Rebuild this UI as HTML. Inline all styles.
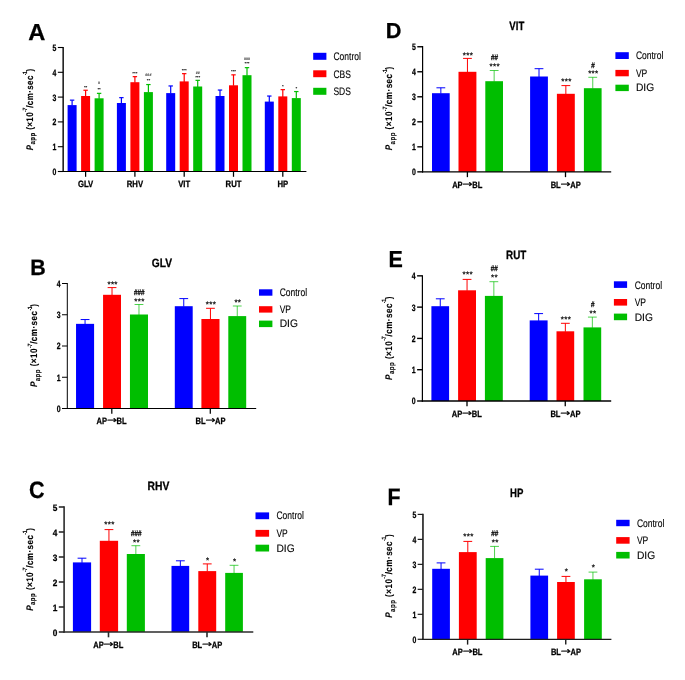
<!DOCTYPE html>
<html lang="en"><head><meta charset="utf-8"><title>Figure</title>
<style>html,body{margin:0;padding:0;background:#fff}body{width:685px;height:680px;overflow:hidden}svg{display:block;font-family:"Liberation Sans",Arial,sans-serif;font-weight:bold;fill:#000;text-rendering:geometricPrecision}.b{stroke:#000;stroke-width:.28px}</style></head>
<body>
<svg width="685" height="680" viewBox="0 0 685 680">
<g id="panelA">
<rect x="67.60" y="105.10" width="9.00" height="66.40" fill="#0000ff"/>
<line x1="72.10" y1="105.60" x2="72.10" y2="100.15" stroke="#0000ff" stroke-width="1.2"/>
<line x1="69.90" y1="100.15" x2="74.30" y2="100.15" stroke="#0000ff" stroke-width="1.2"/>
<rect x="81.10" y="96.00" width="9.00" height="75.50" fill="#ff0000"/>
<line x1="85.60" y1="96.50" x2="85.60" y2="90.25" stroke="#ff0000" stroke-width="1.2"/>
<line x1="83.40" y1="90.25" x2="87.80" y2="90.25" stroke="#ff0000" stroke-width="1.2"/>
<rect x="94.60" y="98.30" width="9.00" height="73.20" fill="#00be00"/>
<line x1="99.10" y1="98.80" x2="99.10" y2="93.35" stroke="#00be00" stroke-width="1.2"/>
<line x1="96.90" y1="93.35" x2="101.30" y2="93.35" stroke="#00be00" stroke-width="1.2"/>
<rect x="116.90" y="103.00" width="9.00" height="68.50" fill="#0000ff"/>
<line x1="121.40" y1="103.50" x2="121.40" y2="97.65" stroke="#0000ff" stroke-width="1.2"/>
<line x1="119.20" y1="97.65" x2="123.60" y2="97.65" stroke="#0000ff" stroke-width="1.2"/>
<rect x="130.40" y="82.20" width="9.00" height="89.30" fill="#ff0000"/>
<line x1="134.90" y1="82.70" x2="134.90" y2="76.65" stroke="#ff0000" stroke-width="1.2"/>
<line x1="132.70" y1="76.65" x2="137.10" y2="76.65" stroke="#ff0000" stroke-width="1.2"/>
<rect x="143.90" y="92.10" width="9.00" height="79.40" fill="#00be00"/>
<line x1="148.40" y1="92.60" x2="148.40" y2="84.55" stroke="#00be00" stroke-width="1.2"/>
<line x1="146.20" y1="84.55" x2="150.60" y2="84.55" stroke="#00be00" stroke-width="1.2"/>
<rect x="166.20" y="93.10" width="9.00" height="78.40" fill="#0000ff"/>
<line x1="170.70" y1="93.60" x2="170.70" y2="85.95" stroke="#0000ff" stroke-width="1.2"/>
<line x1="168.50" y1="85.95" x2="172.90" y2="85.95" stroke="#0000ff" stroke-width="1.2"/>
<rect x="179.70" y="81.40" width="9.00" height="90.10" fill="#ff0000"/>
<line x1="184.20" y1="81.90" x2="184.20" y2="73.65" stroke="#ff0000" stroke-width="1.2"/>
<line x1="182.00" y1="73.65" x2="186.40" y2="73.65" stroke="#ff0000" stroke-width="1.2"/>
<rect x="193.20" y="86.50" width="9.00" height="85.00" fill="#00be00"/>
<line x1="197.70" y1="87.00" x2="197.70" y2="80.35" stroke="#00be00" stroke-width="1.2"/>
<line x1="195.50" y1="80.35" x2="199.90" y2="80.35" stroke="#00be00" stroke-width="1.2"/>
<rect x="215.50" y="96.00" width="9.00" height="75.50" fill="#0000ff"/>
<line x1="220.00" y1="96.50" x2="220.00" y2="90.05" stroke="#0000ff" stroke-width="1.2"/>
<line x1="217.80" y1="90.05" x2="222.20" y2="90.05" stroke="#0000ff" stroke-width="1.2"/>
<rect x="229.00" y="85.30" width="9.00" height="86.20" fill="#ff0000"/>
<line x1="233.50" y1="85.80" x2="233.50" y2="74.85" stroke="#ff0000" stroke-width="1.2"/>
<line x1="231.30" y1="74.85" x2="235.70" y2="74.85" stroke="#ff0000" stroke-width="1.2"/>
<rect x="242.50" y="75.20" width="9.00" height="96.30" fill="#00be00"/>
<line x1="247.00" y1="75.70" x2="247.00" y2="67.65" stroke="#00be00" stroke-width="1.2"/>
<line x1="244.80" y1="67.65" x2="249.20" y2="67.65" stroke="#00be00" stroke-width="1.2"/>
<rect x="264.80" y="101.60" width="9.00" height="69.90" fill="#0000ff"/>
<line x1="269.30" y1="102.10" x2="269.30" y2="96.05" stroke="#0000ff" stroke-width="1.2"/>
<line x1="267.10" y1="96.05" x2="271.50" y2="96.05" stroke="#0000ff" stroke-width="1.2"/>
<rect x="278.30" y="96.40" width="9.00" height="75.10" fill="#ff0000"/>
<line x1="282.80" y1="96.90" x2="282.80" y2="89.65" stroke="#ff0000" stroke-width="1.2"/>
<line x1="280.60" y1="89.65" x2="285.00" y2="89.65" stroke="#ff0000" stroke-width="1.2"/>
<rect x="291.80" y="98.10" width="9.00" height="73.40" fill="#00be00"/>
<line x1="296.30" y1="98.60" x2="296.30" y2="91.55" stroke="#00be00" stroke-width="1.2"/>
<line x1="294.10" y1="91.55" x2="298.50" y2="91.55" stroke="#00be00" stroke-width="1.2"/>
<line x1="63.15" y1="46.95" x2="63.15" y2="172.05" stroke="#000" stroke-width="1.4"/>
<line x1="62.45" y1="171.50" x2="306.40" y2="171.50" stroke="#000" stroke-width="1.1"/>
<line x1="57.85" y1="171.50" x2="63.15" y2="171.50" stroke="#000" stroke-width="1.1"/>
<text transform="translate(56.45,174.95) scale(0.75,1)" font-size="9.2" class="b" text-anchor="end">0</text>
<line x1="57.85" y1="146.70" x2="63.15" y2="146.70" stroke="#000" stroke-width="1.1"/>
<text transform="translate(56.45,150.15) scale(0.75,1)" font-size="9.2" class="b" text-anchor="end">1</text>
<line x1="57.85" y1="121.90" x2="63.15" y2="121.90" stroke="#000" stroke-width="1.1"/>
<text transform="translate(56.45,125.35) scale(0.75,1)" font-size="9.2" class="b" text-anchor="end">2</text>
<line x1="57.85" y1="97.10" x2="63.15" y2="97.10" stroke="#000" stroke-width="1.1"/>
<text transform="translate(56.45,100.55) scale(0.75,1)" font-size="9.2" class="b" text-anchor="end">3</text>
<line x1="57.85" y1="72.30" x2="63.15" y2="72.30" stroke="#000" stroke-width="1.1"/>
<text transform="translate(56.45,75.75) scale(0.75,1)" font-size="9.2" class="b" text-anchor="end">4</text>
<line x1="57.85" y1="47.50" x2="63.15" y2="47.50" stroke="#000" stroke-width="1.1"/>
<text transform="translate(56.45,50.95) scale(0.75,1)" font-size="9.2" class="b" text-anchor="end">5</text>
<line x1="85.60" y1="171.50" x2="85.60" y2="176.80" stroke="#000" stroke-width="1.25"/>
<text transform="translate(85.60,187.00) scale(0.84,1)" font-size="9.2" class="b" text-anchor="middle">GLV</text>
<line x1="134.90" y1="171.50" x2="134.90" y2="176.80" stroke="#000" stroke-width="1.25"/>
<text transform="translate(134.90,187.00) scale(0.84,1)" font-size="9.2" class="b" text-anchor="middle">RHV</text>
<line x1="184.20" y1="171.50" x2="184.20" y2="176.80" stroke="#000" stroke-width="1.25"/>
<text transform="translate(184.20,187.00) scale(0.84,1)" font-size="9.2" class="b" text-anchor="middle">VIT</text>
<line x1="233.50" y1="171.50" x2="233.50" y2="176.80" stroke="#000" stroke-width="1.25"/>
<text transform="translate(233.50,187.00) scale(0.84,1)" font-size="9.2" class="b" text-anchor="middle">RUT</text>
<line x1="282.80" y1="171.50" x2="282.80" y2="176.80" stroke="#000" stroke-width="1.25"/>
<text transform="translate(282.80,187.00) scale(0.84,1)" font-size="9.2" class="b" text-anchor="middle">HP</text>
<text transform="translate(28.30,40.00) scale(1.02,1)" font-size="23.2" class="b">A</text>
<g transform="translate(32.90,150.20) rotate(-90) scale(0.83,1)"><text x="0" y="0" font-size="9.6" letter-spacing="0.5" stroke="#000" stroke-width="0.12"><tspan font-style="italic">P</tspan><tspan font-size="7.30" dy="2.3">app</tspan><tspan dy="-2.3"> (×10</tspan><tspan font-size="6.14" dy="-5.9" letter-spacing="-0.2">-7</tspan><tspan dy="5.9">/cm·sec</tspan><tspan font-size="6.14" dy="-5.9" letter-spacing="-0.4">-1</tspan><tspan dy="5.9">)</tspan></text></g>
<rect x="313.20" y="52.80" width="13.20" height="7.00" fill="#0000ff"/>
<rect x="313.20" y="70.30" width="13.20" height="6.90" fill="#ff0000"/>
<rect x="313.20" y="87.80" width="13.20" height="7.00" fill="#00be00"/>
<text transform="translate(333.45,60.00) scale(0.78,1)" font-size="10.9" font-weight="normal" stroke="#000" stroke-width="0.12">Control</text>
<text transform="translate(333.45,77.70) scale(0.78,1)" font-size="10.9" font-weight="normal" stroke="#000" stroke-width="0.12">CBS</text>
<text transform="translate(333.45,95.20) scale(0.78,1)" font-size="10.9" font-weight="normal" stroke="#000" stroke-width="0.12">SDS</text>
<text x="85.60" y="89.10" font-size="4.4" text-anchor="middle">**</text>
<text transform="translate(99.10,84.25) scale(0.88,1)" font-size="4.2" text-anchor="middle">#</text>
<text x="99.10" y="90.90" font-size="4.4" text-anchor="middle">**</text>
<text x="134.90" y="74.85" font-size="4.4" text-anchor="middle">***</text>
<text transform="translate(148.40,76.10) scale(0.88,1)" font-size="4.2" text-anchor="middle">###</text>
<text x="148.40" y="81.55" font-size="4.4" text-anchor="middle">**</text>
<text x="184.20" y="71.70" font-size="4.4" text-anchor="middle">***</text>
<text transform="translate(197.70,74.40) scale(0.88,1)" font-size="4.2" text-anchor="middle">##</text>
<text x="197.70" y="79.10" font-size="4.4" text-anchor="middle">***</text>
<text x="233.50" y="73.20" font-size="4.4" text-anchor="middle">***</text>
<text transform="translate(247.00,59.60) scale(0.88,1)" font-size="4.2" text-anchor="middle">###</text>
<text x="247.00" y="65.40" font-size="4.4" text-anchor="middle">***</text>
<text x="282.80" y="88.40" font-size="4.4" text-anchor="middle">*</text>
<text x="296.30" y="90.30" font-size="4.4" text-anchor="middle">*</text>
</g>
<g id="panelB">
<rect x="76.04" y="323.85" width="18.05" height="84.65" fill="#0000ff"/>
<line x1="85.06" y1="324.35" x2="85.06" y2="319.55" stroke="#0000ff" stroke-width="1.0"/>
<line x1="80.66" y1="319.55" x2="89.47" y2="319.55" stroke="#0000ff" stroke-width="1.0"/>
<rect x="103.06" y="294.80" width="17.94" height="113.70" fill="#ff0000"/>
<line x1="112.03" y1="295.30" x2="112.03" y2="287.60" stroke="#ff0000" stroke-width="1.0"/>
<line x1="107.63" y1="287.60" x2="116.43" y2="287.60" stroke="#ff0000" stroke-width="1.0"/>
<rect x="129.95" y="314.50" width="18.05" height="94.00" fill="#00be00"/>
<line x1="138.97" y1="315.00" x2="138.97" y2="304.50" stroke="#00be00" stroke-width="0.7"/>
<line x1="134.57" y1="304.50" x2="143.38" y2="304.50" stroke="#00be00" stroke-width="0.7"/>
<rect x="174.80" y="306.20" width="17.90" height="102.30" fill="#0000ff"/>
<line x1="183.75" y1="306.70" x2="183.75" y2="298.60" stroke="#0000ff" stroke-width="1.0"/>
<line x1="179.35" y1="298.60" x2="188.15" y2="298.60" stroke="#0000ff" stroke-width="1.0"/>
<rect x="201.40" y="319.00" width="18.10" height="89.50" fill="#ff0000"/>
<line x1="210.45" y1="319.50" x2="210.45" y2="308.30" stroke="#ff0000" stroke-width="1.0"/>
<line x1="206.05" y1="308.30" x2="214.85" y2="308.30" stroke="#ff0000" stroke-width="1.0"/>
<rect x="228.30" y="316.10" width="17.90" height="92.40" fill="#00be00"/>
<line x1="237.25" y1="316.60" x2="237.25" y2="306.00" stroke="#00be00" stroke-width="0.7"/>
<line x1="232.85" y1="306.00" x2="241.65" y2="306.00" stroke="#00be00" stroke-width="0.7"/>
<line x1="67.30" y1="283.00" x2="67.30" y2="409.00" stroke="#000" stroke-width="1.0"/>
<line x1="66.80" y1="408.50" x2="256.20" y2="408.50" stroke="#000" stroke-width="1.0"/>
<line x1="62.00" y1="408.50" x2="67.30" y2="408.50" stroke="#000" stroke-width="1.0"/>
<text transform="translate(60.60,411.95) scale(0.75,1)" font-size="9.2" class="b" text-anchor="end">0</text>
<line x1="62.00" y1="377.25" x2="67.30" y2="377.25" stroke="#000" stroke-width="1.0"/>
<text transform="translate(60.60,380.70) scale(0.75,1)" font-size="9.2" class="b" text-anchor="end">1</text>
<line x1="62.00" y1="346.00" x2="67.30" y2="346.00" stroke="#000" stroke-width="1.0"/>
<text transform="translate(60.60,349.45) scale(0.75,1)" font-size="9.2" class="b" text-anchor="end">2</text>
<line x1="62.00" y1="314.75" x2="67.30" y2="314.75" stroke="#000" stroke-width="1.0"/>
<text transform="translate(60.60,318.20) scale(0.75,1)" font-size="9.2" class="b" text-anchor="end">3</text>
<line x1="62.00" y1="283.50" x2="67.30" y2="283.50" stroke="#000" stroke-width="1.0"/>
<text transform="translate(60.60,286.95) scale(0.75,1)" font-size="9.2" class="b" text-anchor="end">4</text>
<line x1="111.80" y1="408.50" x2="111.80" y2="413.80" stroke="#000" stroke-width="1.25"/>
<text transform="translate(107.00,424.10) scale(0.82,1)" font-size="9.2" class="b" text-anchor="end">AP</text>
<text transform="translate(111.95,423.30) scale(1.15,0.85)" font-family="DejaVu Sans,sans-serif" font-weight="normal" font-size="10.5" text-anchor="middle" stroke="#000" stroke-width="0.3">→</text>
<text transform="translate(116.60,424.10) scale(0.82,1)" font-size="9.2" class="b">BL</text>
<line x1="210.30" y1="408.50" x2="210.30" y2="413.80" stroke="#000" stroke-width="1.25"/>
<text transform="translate(205.50,424.10) scale(0.82,1)" font-size="9.2" class="b" text-anchor="end">BL</text>
<text transform="translate(210.45,423.30) scale(1.15,0.85)" font-family="DejaVu Sans,sans-serif" font-weight="normal" font-size="10.5" text-anchor="middle" stroke="#000" stroke-width="0.3">→</text>
<text transform="translate(215.10,424.10) scale(0.82,1)" font-size="9.2" class="b">AP</text>
<text transform="translate(161.90,266.90) scale(0.85,1)" font-size="12" class="b" text-anchor="middle">GLV</text>
<text transform="translate(30.35,274.50) scale(0.96,1)" font-size="22.3" class="b">B</text>
<g transform="translate(37.40,387.10) rotate(-90) scale(0.847,1)"><text x="0" y="0" font-size="9.6" letter-spacing="0.5" stroke="#000" stroke-width="0.12"><tspan font-style="italic">P</tspan><tspan font-size="7.30" dy="2.3">app</tspan><tspan dy="-2.3"> (×10</tspan><tspan font-size="6.14" dy="-5.9" letter-spacing="-0.2">-7</tspan><tspan dy="5.9">/cm·sec</tspan><tspan font-size="6.14" dy="-5.9" letter-spacing="-0.4">-1</tspan><tspan dy="5.9">)</tspan></text></g>
<rect x="259.00" y="289.30" width="13.40" height="6.40" fill="#0000ff"/>
<rect x="259.00" y="306.20" width="13.40" height="6.40" fill="#ff0000"/>
<rect x="259.00" y="320.60" width="13.40" height="6.50" fill="#00be00"/>
<text transform="translate(279.65,296.00) scale(0.78,1)" font-size="10.9" font-weight="normal" stroke="#000" stroke-width="0.12">Control</text>
<text transform="translate(279.65,313.00) scale(0.78,1)" font-size="10.9" font-weight="normal" stroke="#000" stroke-width="0.12">VP</text>
<text transform="translate(279.65,327.30) scale(0.94,1)" font-size="10.9" font-weight="normal" stroke="#000" stroke-width="0.12">DIG</text>
<text x="112.63" y="286.50" font-size="8" font-weight="normal" text-anchor="middle" letter-spacing="0.35" stroke="#000" stroke-width="0.25">***</text>
<text transform="translate(139.28,295.10) scale(0.78,1)" font-size="8.1" font-weight="normal" text-anchor="middle" stroke="#000" stroke-width="0.3">###</text>
<text x="139.57" y="303.75" font-size="8" font-weight="normal" text-anchor="middle" letter-spacing="0.35" stroke="#000" stroke-width="0.25">***</text>
<text x="211.05" y="307.10" font-size="8" font-weight="normal" text-anchor="middle" letter-spacing="0.35" stroke="#000" stroke-width="0.25">***</text>
<text x="237.85" y="304.60" font-size="8" font-weight="normal" text-anchor="middle" letter-spacing="0.35" stroke="#000" stroke-width="0.25">**</text>
</g>
<g id="panelC">
<rect x="72.90" y="562.40" width="18.20" height="69.60" fill="#0000ff"/>
<line x1="82.00" y1="562.90" x2="82.00" y2="558.20" stroke="#0000ff" stroke-width="1.0"/>
<line x1="77.60" y1="558.20" x2="86.40" y2="558.20" stroke="#0000ff" stroke-width="1.0"/>
<rect x="99.80" y="540.80" width="18.30" height="91.20" fill="#ff0000"/>
<line x1="108.95" y1="541.30" x2="108.95" y2="529.60" stroke="#ff0000" stroke-width="1.0"/>
<line x1="104.55" y1="529.60" x2="113.35" y2="529.60" stroke="#ff0000" stroke-width="1.0"/>
<rect x="126.80" y="554.00" width="18.10" height="78.00" fill="#00be00"/>
<line x1="135.85" y1="554.50" x2="135.85" y2="545.70" stroke="#00be00" stroke-width="0.7"/>
<line x1="131.45" y1="545.70" x2="140.25" y2="545.70" stroke="#00be00" stroke-width="0.7"/>
<rect x="171.50" y="565.90" width="17.70" height="66.10" fill="#0000ff"/>
<line x1="180.35" y1="566.40" x2="180.35" y2="560.80" stroke="#0000ff" stroke-width="1.0"/>
<line x1="175.95" y1="560.80" x2="184.75" y2="560.80" stroke="#0000ff" stroke-width="1.0"/>
<rect x="198.30" y="571.10" width="17.90" height="60.90" fill="#ff0000"/>
<line x1="207.25" y1="571.60" x2="207.25" y2="563.90" stroke="#ff0000" stroke-width="1.0"/>
<line x1="202.85" y1="563.90" x2="211.65" y2="563.90" stroke="#ff0000" stroke-width="1.0"/>
<rect x="225.20" y="572.90" width="17.70" height="59.10" fill="#00be00"/>
<line x1="234.05" y1="573.40" x2="234.05" y2="565.30" stroke="#00be00" stroke-width="0.7"/>
<line x1="229.65" y1="565.30" x2="238.45" y2="565.30" stroke="#00be00" stroke-width="0.7"/>
<line x1="64.10" y1="506.20" x2="64.10" y2="632.80" stroke="#2b2b2b" stroke-width="1.6"/>
<line x1="63.30" y1="632.00" x2="253.30" y2="632.00" stroke="#2b2b2b" stroke-width="1.6"/>
<line x1="58.80" y1="632.00" x2="64.10" y2="632.00" stroke="#2b2b2b" stroke-width="1.6"/>
<text transform="translate(57.40,635.90) scale(0.9,1)" font-size="9.2" class="b" text-anchor="end">0</text>
<line x1="58.80" y1="607.00" x2="64.10" y2="607.00" stroke="#2b2b2b" stroke-width="1.6"/>
<text transform="translate(57.40,610.90) scale(0.9,1)" font-size="9.2" class="b" text-anchor="end">1</text>
<line x1="58.80" y1="582.00" x2="64.10" y2="582.00" stroke="#2b2b2b" stroke-width="1.6"/>
<text transform="translate(57.40,585.90) scale(0.9,1)" font-size="9.2" class="b" text-anchor="end">2</text>
<line x1="58.80" y1="557.00" x2="64.10" y2="557.00" stroke="#2b2b2b" stroke-width="1.6"/>
<text transform="translate(57.40,560.90) scale(0.9,1)" font-size="9.2" class="b" text-anchor="end">3</text>
<line x1="58.80" y1="532.00" x2="64.10" y2="532.00" stroke="#2b2b2b" stroke-width="1.6"/>
<text transform="translate(57.40,535.90) scale(0.9,1)" font-size="9.2" class="b" text-anchor="end">4</text>
<line x1="58.80" y1="507.00" x2="64.10" y2="507.00" stroke="#2b2b2b" stroke-width="1.6"/>
<text transform="translate(57.40,510.90) scale(0.9,1)" font-size="9.2" class="b" text-anchor="end">5</text>
<line x1="108.50" y1="632.00" x2="108.50" y2="637.30" stroke="#2b2b2b" stroke-width="1.6"/>
<text transform="translate(103.70,647.50) scale(0.82,1)" font-size="9.2" class="b" text-anchor="end">AP</text>
<text transform="translate(108.65,646.70) scale(1.15,0.85)" font-family="DejaVu Sans,sans-serif" font-weight="normal" font-size="10.5" text-anchor="middle" stroke="#000" stroke-width="0.3">→</text>
<text transform="translate(113.30,647.50) scale(0.82,1)" font-size="9.2" class="b">BL</text>
<line x1="207.00" y1="632.00" x2="207.00" y2="637.30" stroke="#2b2b2b" stroke-width="1.6"/>
<text transform="translate(202.20,647.50) scale(0.82,1)" font-size="9.2" class="b" text-anchor="end">BL</text>
<text transform="translate(207.15,646.70) scale(1.15,0.85)" font-family="DejaVu Sans,sans-serif" font-weight="normal" font-size="10.5" text-anchor="middle" stroke="#000" stroke-width="0.3">→</text>
<text transform="translate(211.80,647.50) scale(0.82,1)" font-size="9.2" class="b">AP</text>
<text transform="translate(158.40,490.20) scale(0.86,1)" font-size="12" class="b" text-anchor="middle">RHV</text>
<text transform="translate(29.10,498.10) scale(0.91,1)" font-size="23.7" class="b">C</text>
<g transform="translate(32.90,610.80) rotate(-90) scale(0.843,1)"><text x="0" y="0" font-size="9.6" letter-spacing="0.5" stroke="#000" stroke-width="0.12"><tspan font-style="italic">P</tspan><tspan font-size="7.30" dy="2.3">app</tspan><tspan dy="-2.3"> (×10</tspan><tspan font-size="6.14" dy="-5.9" letter-spacing="-0.2">-7</tspan><tspan dy="5.9">/cm·sec</tspan><tspan font-size="6.14" dy="-5.9" letter-spacing="-0.4">-1</tspan><tspan dy="5.9">)</tspan></text></g>
<rect x="255.50" y="512.40" width="13.60" height="6.80" fill="#0000ff"/>
<rect x="255.50" y="529.90" width="13.60" height="6.80" fill="#ff0000"/>
<rect x="255.50" y="544.70" width="13.60" height="6.80" fill="#00be00"/>
<text transform="translate(276.45,519.40) scale(0.78,1)" font-size="10.9" font-weight="normal" stroke="#000" stroke-width="0.12">Control</text>
<text transform="translate(276.45,536.90) scale(0.78,1)" font-size="10.9" font-weight="normal" stroke="#000" stroke-width="0.12">VP</text>
<text transform="translate(276.45,551.70) scale(0.94,1)" font-size="10.9" font-weight="normal" stroke="#000" stroke-width="0.12">DIG</text>
<text x="109.55" y="527.10" font-size="8" font-weight="normal" text-anchor="middle" letter-spacing="0.35" stroke="#000" stroke-width="0.25">***</text>
<text transform="translate(136.15,535.90) scale(0.78,1)" font-size="8.1" font-weight="normal" text-anchor="middle" stroke="#000" stroke-width="0.3">###</text>
<text x="136.45" y="545.00" font-size="8" font-weight="normal" text-anchor="middle" letter-spacing="0.35" stroke="#000" stroke-width="0.25">**</text>
<text x="207.85" y="562.90" font-size="8" font-weight="normal" text-anchor="middle" letter-spacing="0.35" stroke="#000" stroke-width="0.25">*</text>
<text x="234.65" y="564.00" font-size="8" font-weight="normal" text-anchor="middle" letter-spacing="0.35" stroke="#000" stroke-width="0.25">*</text>
</g>
<g id="panelD">
<rect x="432.00" y="93.20" width="17.70" height="78.65" fill="#0000ff"/>
<line x1="440.85" y1="93.70" x2="440.85" y2="87.80" stroke="#0000ff" stroke-width="1.0"/>
<line x1="436.45" y1="87.80" x2="445.25" y2="87.80" stroke="#0000ff" stroke-width="1.0"/>
<rect x="458.50" y="71.80" width="17.90" height="100.05" fill="#ff0000"/>
<line x1="467.45" y1="72.30" x2="467.45" y2="58.40" stroke="#ff0000" stroke-width="1.0"/>
<line x1="463.05" y1="58.40" x2="471.85" y2="58.40" stroke="#ff0000" stroke-width="1.0"/>
<rect x="485.30" y="81.20" width="17.70" height="90.65" fill="#00be00"/>
<line x1="494.15" y1="81.70" x2="494.15" y2="70.50" stroke="#00be00" stroke-width="0.7"/>
<line x1="489.75" y1="70.50" x2="498.55" y2="70.50" stroke="#00be00" stroke-width="0.7"/>
<rect x="530.10" y="76.50" width="17.80" height="95.35" fill="#0000ff"/>
<line x1="539.00" y1="77.00" x2="539.00" y2="68.70" stroke="#0000ff" stroke-width="1.0"/>
<line x1="534.60" y1="68.70" x2="543.40" y2="68.70" stroke="#0000ff" stroke-width="1.0"/>
<rect x="556.90" y="93.80" width="17.90" height="78.05" fill="#ff0000"/>
<line x1="565.85" y1="94.30" x2="565.85" y2="85.60" stroke="#ff0000" stroke-width="1.0"/>
<line x1="561.45" y1="85.60" x2="570.25" y2="85.60" stroke="#ff0000" stroke-width="1.0"/>
<rect x="583.90" y="88.20" width="17.70" height="83.65" fill="#00be00"/>
<line x1="592.75" y1="88.70" x2="592.75" y2="77.30" stroke="#00be00" stroke-width="0.7"/>
<line x1="588.35" y1="77.30" x2="597.15" y2="77.30" stroke="#00be00" stroke-width="0.7"/>
<line x1="422.60" y1="46.05" x2="422.60" y2="172.55" stroke="#000" stroke-width="1.2"/>
<line x1="422.00" y1="171.85" x2="611.20" y2="171.85" stroke="#000" stroke-width="1.4"/>
<line x1="417.30" y1="171.85" x2="422.60" y2="171.85" stroke="#000" stroke-width="1.4"/>
<text transform="translate(415.90,175.30) scale(0.75,1)" font-size="9.2" class="b" text-anchor="end">0</text>
<line x1="417.30" y1="146.83" x2="422.60" y2="146.83" stroke="#000" stroke-width="1.4"/>
<text transform="translate(415.90,150.28) scale(0.75,1)" font-size="9.2" class="b" text-anchor="end">1</text>
<line x1="417.30" y1="121.81" x2="422.60" y2="121.81" stroke="#000" stroke-width="1.4"/>
<text transform="translate(415.90,125.26) scale(0.75,1)" font-size="9.2" class="b" text-anchor="end">2</text>
<line x1="417.30" y1="96.79" x2="422.60" y2="96.79" stroke="#000" stroke-width="1.4"/>
<text transform="translate(415.90,100.24) scale(0.75,1)" font-size="9.2" class="b" text-anchor="end">3</text>
<line x1="417.30" y1="71.77" x2="422.60" y2="71.77" stroke="#000" stroke-width="1.4"/>
<text transform="translate(415.90,75.22) scale(0.75,1)" font-size="9.2" class="b" text-anchor="end">4</text>
<line x1="417.30" y1="46.75" x2="422.60" y2="46.75" stroke="#000" stroke-width="1.4"/>
<text transform="translate(415.90,50.20) scale(0.75,1)" font-size="9.2" class="b" text-anchor="end">5</text>
<line x1="467.40" y1="171.85" x2="467.40" y2="177.15" stroke="#000" stroke-width="1.3"/>
<text transform="translate(462.60,187.50) scale(0.82,1)" font-size="9.2" class="b" text-anchor="end">AP</text>
<text transform="translate(467.55,186.70) scale(1.15,0.85)" font-family="DejaVu Sans,sans-serif" font-weight="normal" font-size="10.5" text-anchor="middle" stroke="#000" stroke-width="0.3">→</text>
<text transform="translate(472.20,187.50) scale(0.82,1)" font-size="9.2" class="b">BL</text>
<line x1="565.50" y1="171.85" x2="565.50" y2="177.15" stroke="#000" stroke-width="1.3"/>
<text transform="translate(560.70,187.50) scale(0.82,1)" font-size="9.2" class="b" text-anchor="end">BL</text>
<text transform="translate(565.65,186.70) scale(1.15,0.85)" font-family="DejaVu Sans,sans-serif" font-weight="normal" font-size="10.5" text-anchor="middle" stroke="#000" stroke-width="0.3">→</text>
<text transform="translate(570.30,187.50) scale(0.82,1)" font-size="9.2" class="b">AP</text>
<text transform="translate(516.80,30.00) scale(0.8,1)" font-size="12" class="b" text-anchor="middle">VIT</text>
<text x="385.80" y="37.80" font-size="21.7" class="b">D</text>
<g transform="translate(392.40,150.30) rotate(-90) scale(0.851,1)"><text x="0" y="0" font-size="9.6" letter-spacing="0.5" stroke="#000" stroke-width="0.12"><tspan font-style="italic">P</tspan><tspan font-size="7.30" dy="2.3">app</tspan><tspan dy="-2.3"> (×10</tspan><tspan font-size="6.14" dy="-5.9" letter-spacing="-0.2">-7</tspan><tspan dy="5.9">/cm·sec</tspan><tspan font-size="6.14" dy="-5.9" letter-spacing="-0.4">-1</tspan><tspan dy="5.9">)</tspan></text></g>
<rect x="615.40" y="52.20" width="13.40" height="6.80" fill="#0000ff"/>
<rect x="615.40" y="69.90" width="13.40" height="6.40" fill="#ff0000"/>
<rect x="615.40" y="84.70" width="13.40" height="6.40" fill="#00be00"/>
<text transform="translate(635.90,59.40) scale(0.78,1)" font-size="10.9" font-weight="normal" stroke="#000" stroke-width="0.12">Control</text>
<text transform="translate(635.90,76.60) scale(0.78,1)" font-size="10.9" font-weight="normal" stroke="#000" stroke-width="0.12">VP</text>
<text transform="translate(635.90,91.20) scale(0.94,1)" font-size="10.9" font-weight="normal" stroke="#000" stroke-width="0.12">DIG</text>
<text x="468.05" y="57.60" font-size="8" font-weight="normal" text-anchor="middle" letter-spacing="0.35" stroke="#000" stroke-width="0.25">***</text>
<text transform="translate(494.45,60.30) scale(0.78,1)" font-size="8.1" font-weight="normal" text-anchor="middle" stroke="#000" stroke-width="0.3">##</text>
<text x="494.75" y="69.20" font-size="8" font-weight="normal" text-anchor="middle" letter-spacing="0.35" stroke="#000" stroke-width="0.25">***</text>
<text x="566.45" y="84.00" font-size="8" font-weight="normal" text-anchor="middle" letter-spacing="0.35" stroke="#000" stroke-width="0.25">***</text>
<text transform="translate(593.05,67.50) scale(0.78,1)" font-size="8.1" font-weight="normal" text-anchor="middle" stroke="#000" stroke-width="0.3">#</text>
<text x="593.35" y="76.40" font-size="8" font-weight="normal" text-anchor="middle" letter-spacing="0.35" stroke="#000" stroke-width="0.25">***</text>
</g>
<g id="panelE">
<rect x="431.40" y="306.20" width="17.70" height="94.80" fill="#0000ff"/>
<line x1="440.25" y1="306.70" x2="440.25" y2="298.80" stroke="#0000ff" stroke-width="1.0"/>
<line x1="435.85" y1="298.80" x2="444.65" y2="298.80" stroke="#0000ff" stroke-width="1.0"/>
<rect x="458.10" y="290.30" width="17.90" height="110.70" fill="#ff0000"/>
<line x1="467.05" y1="290.80" x2="467.05" y2="279.40" stroke="#ff0000" stroke-width="1.0"/>
<line x1="462.65" y1="279.40" x2="471.45" y2="279.40" stroke="#ff0000" stroke-width="1.0"/>
<rect x="484.90" y="295.90" width="17.90" height="105.10" fill="#00be00"/>
<line x1="493.85" y1="296.40" x2="493.85" y2="281.70" stroke="#00be00" stroke-width="0.7"/>
<line x1="489.45" y1="281.70" x2="498.25" y2="281.70" stroke="#00be00" stroke-width="0.7"/>
<rect x="529.70" y="320.40" width="17.90" height="80.60" fill="#0000ff"/>
<line x1="538.65" y1="320.90" x2="538.65" y2="313.60" stroke="#0000ff" stroke-width="1.0"/>
<line x1="534.25" y1="313.60" x2="543.05" y2="313.60" stroke="#0000ff" stroke-width="1.0"/>
<rect x="556.50" y="331.30" width="17.70" height="69.70" fill="#ff0000"/>
<line x1="565.35" y1="331.80" x2="565.35" y2="323.30" stroke="#ff0000" stroke-width="1.0"/>
<line x1="560.95" y1="323.30" x2="569.75" y2="323.30" stroke="#ff0000" stroke-width="1.0"/>
<rect x="583.50" y="327.40" width="17.70" height="73.60" fill="#00be00"/>
<line x1="592.35" y1="327.90" x2="592.35" y2="317.10" stroke="#00be00" stroke-width="0.7"/>
<line x1="587.95" y1="317.10" x2="596.75" y2="317.10" stroke="#00be00" stroke-width="0.7"/>
<line x1="422.40" y1="275.14" x2="422.40" y2="401.70" stroke="#000" stroke-width="1.2"/>
<line x1="421.80" y1="401.00" x2="611.20" y2="401.00" stroke="#000" stroke-width="1.4"/>
<line x1="417.10" y1="401.00" x2="422.40" y2="401.00" stroke="#000" stroke-width="1.4"/>
<text transform="translate(415.70,404.45) scale(0.75,1)" font-size="9.2" class="b" text-anchor="end">0</text>
<line x1="417.10" y1="369.71" x2="422.40" y2="369.71" stroke="#000" stroke-width="1.4"/>
<text transform="translate(415.70,373.16) scale(0.75,1)" font-size="9.2" class="b" text-anchor="end">1</text>
<line x1="417.10" y1="338.42" x2="422.40" y2="338.42" stroke="#000" stroke-width="1.4"/>
<text transform="translate(415.70,341.87) scale(0.75,1)" font-size="9.2" class="b" text-anchor="end">2</text>
<line x1="417.10" y1="307.13" x2="422.40" y2="307.13" stroke="#000" stroke-width="1.4"/>
<text transform="translate(415.70,310.58) scale(0.75,1)" font-size="9.2" class="b" text-anchor="end">3</text>
<line x1="417.10" y1="275.84" x2="422.40" y2="275.84" stroke="#000" stroke-width="1.4"/>
<text transform="translate(415.70,279.29) scale(0.75,1)" font-size="9.2" class="b" text-anchor="end">4</text>
<line x1="467.00" y1="401.00" x2="467.00" y2="406.30" stroke="#000" stroke-width="1.3"/>
<text transform="translate(462.20,416.60) scale(0.82,1)" font-size="9.2" class="b" text-anchor="end">AP</text>
<text transform="translate(467.15,415.80) scale(1.15,0.85)" font-family="DejaVu Sans,sans-serif" font-weight="normal" font-size="10.5" text-anchor="middle" stroke="#000" stroke-width="0.3">→</text>
<text transform="translate(471.80,416.60) scale(0.82,1)" font-size="9.2" class="b">BL</text>
<line x1="565.25" y1="401.00" x2="565.25" y2="406.30" stroke="#000" stroke-width="1.3"/>
<text transform="translate(560.45,416.60) scale(0.82,1)" font-size="9.2" class="b" text-anchor="end">BL</text>
<text transform="translate(565.40,415.80) scale(1.15,0.85)" font-family="DejaVu Sans,sans-serif" font-weight="normal" font-size="10.5" text-anchor="middle" stroke="#000" stroke-width="0.3">→</text>
<text transform="translate(570.05,416.60) scale(0.82,1)" font-size="9.2" class="b">AP</text>
<text transform="translate(516.20,258.80) scale(0.82,1)" font-size="12" class="b" text-anchor="middle">RUT</text>
<text transform="translate(388.40,266.60) scale(0.93,1)" font-size="23.1" class="b">E</text>
<g transform="translate(391.70,380.00) rotate(-90) scale(0.851,1)"><text x="0" y="0" font-size="9.6" letter-spacing="0.5" stroke="#000" stroke-width="0.12"><tspan font-style="italic">P</tspan><tspan font-size="7.30" dy="2.3">app</tspan><tspan dy="-2.3"> (×10</tspan><tspan font-size="6.14" dy="-5.9" letter-spacing="-0.2">-7</tspan><tspan dy="5.9">/cm·sec</tspan><tspan font-size="6.14" dy="-5.9" letter-spacing="-0.4">-1</tspan><tspan dy="5.9">)</tspan></text></g>
<rect x="613.90" y="281.30" width="13.20" height="6.60" fill="#0000ff"/>
<rect x="613.90" y="299.00" width="13.20" height="6.60" fill="#ff0000"/>
<rect x="613.90" y="313.60" width="13.20" height="6.60" fill="#00be00"/>
<text transform="translate(634.65,288.60) scale(0.78,1)" font-size="10.9" font-weight="normal" stroke="#000" stroke-width="0.12">Control</text>
<text transform="translate(634.65,306.30) scale(0.78,1)" font-size="10.9" font-weight="normal" stroke="#000" stroke-width="0.12">VP</text>
<text transform="translate(634.65,320.80) scale(0.94,1)" font-size="10.9" font-weight="normal" stroke="#000" stroke-width="0.12">DIG</text>
<text x="467.65" y="277.20" font-size="8" font-weight="normal" text-anchor="middle" letter-spacing="0.35" stroke="#000" stroke-width="0.25">***</text>
<text transform="translate(494.15,271.40) scale(0.78,1)" font-size="8.1" font-weight="normal" text-anchor="middle" stroke="#000" stroke-width="0.3">##</text>
<text x="494.45" y="280.30" font-size="8" font-weight="normal" text-anchor="middle" letter-spacing="0.35" stroke="#000" stroke-width="0.25">**</text>
<text x="565.95" y="321.70" font-size="8" font-weight="normal" text-anchor="middle" letter-spacing="0.35" stroke="#000" stroke-width="0.25">***</text>
<text transform="translate(592.65,307.00) scale(0.78,1)" font-size="8.1" font-weight="normal" text-anchor="middle" stroke="#000" stroke-width="0.3">#</text>
<text x="592.95" y="315.50" font-size="8" font-weight="normal" text-anchor="middle" letter-spacing="0.35" stroke="#000" stroke-width="0.25">**</text>
</g>
<g id="panelF">
<rect x="432.20" y="568.80" width="17.70" height="70.50" fill="#0000ff"/>
<line x1="441.05" y1="569.30" x2="441.05" y2="562.90" stroke="#0000ff" stroke-width="1.0"/>
<line x1="436.65" y1="562.90" x2="445.45" y2="562.90" stroke="#0000ff" stroke-width="1.0"/>
<rect x="458.90" y="552.10" width="17.80" height="87.20" fill="#ff0000"/>
<line x1="467.80" y1="552.60" x2="467.80" y2="541.40" stroke="#ff0000" stroke-width="1.0"/>
<line x1="463.40" y1="541.40" x2="472.20" y2="541.40" stroke="#ff0000" stroke-width="1.0"/>
<rect x="485.70" y="558.10" width="17.70" height="81.20" fill="#00be00"/>
<line x1="494.55" y1="558.60" x2="494.55" y2="546.40" stroke="#00be00" stroke-width="0.7"/>
<line x1="490.15" y1="546.40" x2="498.95" y2="546.40" stroke="#00be00" stroke-width="0.7"/>
<rect x="530.40" y="575.60" width="17.70" height="63.70" fill="#0000ff"/>
<line x1="539.25" y1="576.10" x2="539.25" y2="569.20" stroke="#0000ff" stroke-width="1.0"/>
<line x1="534.85" y1="569.20" x2="543.65" y2="569.20" stroke="#0000ff" stroke-width="1.0"/>
<rect x="557.10" y="582.00" width="17.70" height="57.30" fill="#ff0000"/>
<line x1="565.95" y1="582.50" x2="565.95" y2="576.40" stroke="#ff0000" stroke-width="1.0"/>
<line x1="561.55" y1="576.40" x2="570.35" y2="576.40" stroke="#ff0000" stroke-width="1.0"/>
<rect x="584.10" y="579.30" width="17.70" height="60.00" fill="#00be00"/>
<line x1="592.95" y1="579.80" x2="592.95" y2="572.10" stroke="#00be00" stroke-width="0.7"/>
<line x1="588.55" y1="572.10" x2="597.35" y2="572.10" stroke="#00be00" stroke-width="0.7"/>
<line x1="422.96" y1="513.80" x2="422.96" y2="639.90" stroke="#1c1c1c" stroke-width="1.6"/>
<line x1="422.16" y1="639.30" x2="611.40" y2="639.30" stroke="#1c1c1c" stroke-width="1.2"/>
<line x1="417.66" y1="639.30" x2="422.96" y2="639.30" stroke="#1c1c1c" stroke-width="1.2"/>
<text transform="translate(416.26,642.75) scale(0.75,1)" font-size="9.2" class="b" text-anchor="end">0</text>
<line x1="417.66" y1="614.32" x2="422.96" y2="614.32" stroke="#1c1c1c" stroke-width="1.2"/>
<text transform="translate(416.26,617.77) scale(0.75,1)" font-size="9.2" class="b" text-anchor="end">1</text>
<line x1="417.66" y1="589.34" x2="422.96" y2="589.34" stroke="#1c1c1c" stroke-width="1.2"/>
<text transform="translate(416.26,592.79) scale(0.75,1)" font-size="9.2" class="b" text-anchor="end">2</text>
<line x1="417.66" y1="564.36" x2="422.96" y2="564.36" stroke="#1c1c1c" stroke-width="1.2"/>
<text transform="translate(416.26,567.81) scale(0.75,1)" font-size="9.2" class="b" text-anchor="end">3</text>
<line x1="417.66" y1="539.38" x2="422.96" y2="539.38" stroke="#1c1c1c" stroke-width="1.2"/>
<text transform="translate(416.26,542.83) scale(0.75,1)" font-size="9.2" class="b" text-anchor="end">4</text>
<line x1="417.66" y1="514.40" x2="422.96" y2="514.40" stroke="#1c1c1c" stroke-width="1.2"/>
<text transform="translate(416.26,517.85) scale(0.75,1)" font-size="9.2" class="b" text-anchor="end">5</text>
<line x1="467.60" y1="639.30" x2="467.60" y2="644.60" stroke="#1c1c1c" stroke-width="1.4"/>
<text transform="translate(462.80,654.80) scale(0.82,1)" font-size="9.2" class="b" text-anchor="end">AP</text>
<text transform="translate(467.75,654.00) scale(1.15,0.85)" font-family="DejaVu Sans,sans-serif" font-weight="normal" font-size="10.5" text-anchor="middle" stroke="#000" stroke-width="0.3">→</text>
<text transform="translate(472.40,654.80) scale(0.82,1)" font-size="9.2" class="b">BL</text>
<line x1="565.75" y1="639.30" x2="565.75" y2="644.60" stroke="#1c1c1c" stroke-width="1.4"/>
<text transform="translate(560.95,654.80) scale(0.82,1)" font-size="9.2" class="b" text-anchor="end">BL</text>
<text transform="translate(565.90,654.00) scale(1.15,0.85)" font-family="DejaVu Sans,sans-serif" font-weight="normal" font-size="10.5" text-anchor="middle" stroke="#000" stroke-width="0.3">→</text>
<text transform="translate(570.55,654.80) scale(0.82,1)" font-size="9.2" class="b">AP</text>
<text transform="translate(516.70,497.40) scale(0.8,1)" font-size="12" class="b" text-anchor="middle">HP</text>
<text transform="translate(387.45,505.40) scale(0.9,1)" font-size="23.7" class="b">F</text>
<g transform="translate(392.30,617.80) rotate(-90) scale(0.851,1)"><text x="0" y="0" font-size="9.6" letter-spacing="0.5" stroke="#000" stroke-width="0.12"><tspan font-style="italic">P</tspan><tspan font-size="7.30" dy="2.3">app</tspan><tspan dy="-2.3"> (×10</tspan><tspan font-size="6.14" dy="-5.9" letter-spacing="-0.2">-7</tspan><tspan dy="5.9">/cm·sec</tspan><tspan font-size="6.14" dy="-5.9" letter-spacing="-0.4">-1</tspan><tspan dy="5.9">)</tspan></text></g>
<rect x="616.20" y="519.80" width="13.40" height="6.40" fill="#0000ff"/>
<rect x="616.20" y="537.10" width="13.40" height="6.60" fill="#ff0000"/>
<rect x="616.20" y="551.90" width="13.40" height="6.60" fill="#00be00"/>
<text transform="translate(636.90,526.80) scale(0.78,1)" font-size="10.9" font-weight="normal" stroke="#000" stroke-width="0.12">Control</text>
<text transform="translate(636.90,544.00) scale(0.78,1)" font-size="10.9" font-weight="normal" stroke="#000" stroke-width="0.12">VP</text>
<text transform="translate(636.90,558.70) scale(0.94,1)" font-size="10.9" font-weight="normal" stroke="#000" stroke-width="0.12">DIG</text>
<text x="468.40" y="538.90" font-size="8" font-weight="normal" text-anchor="middle" letter-spacing="0.35" stroke="#000" stroke-width="0.25">***</text>
<text transform="translate(494.85,536.10) scale(0.78,1)" font-size="8.1" font-weight="normal" text-anchor="middle" stroke="#000" stroke-width="0.3">##</text>
<text x="495.15" y="545.40" font-size="8" font-weight="normal" text-anchor="middle" letter-spacing="0.35" stroke="#000" stroke-width="0.25">**</text>
<text x="566.55" y="574.00" font-size="8" font-weight="normal" text-anchor="middle" letter-spacing="0.35" stroke="#000" stroke-width="0.25">*</text>
<text x="593.55" y="569.70" font-size="8" font-weight="normal" text-anchor="middle" letter-spacing="0.35" stroke="#000" stroke-width="0.25">*</text>
</g>
</svg>
</body></html>
